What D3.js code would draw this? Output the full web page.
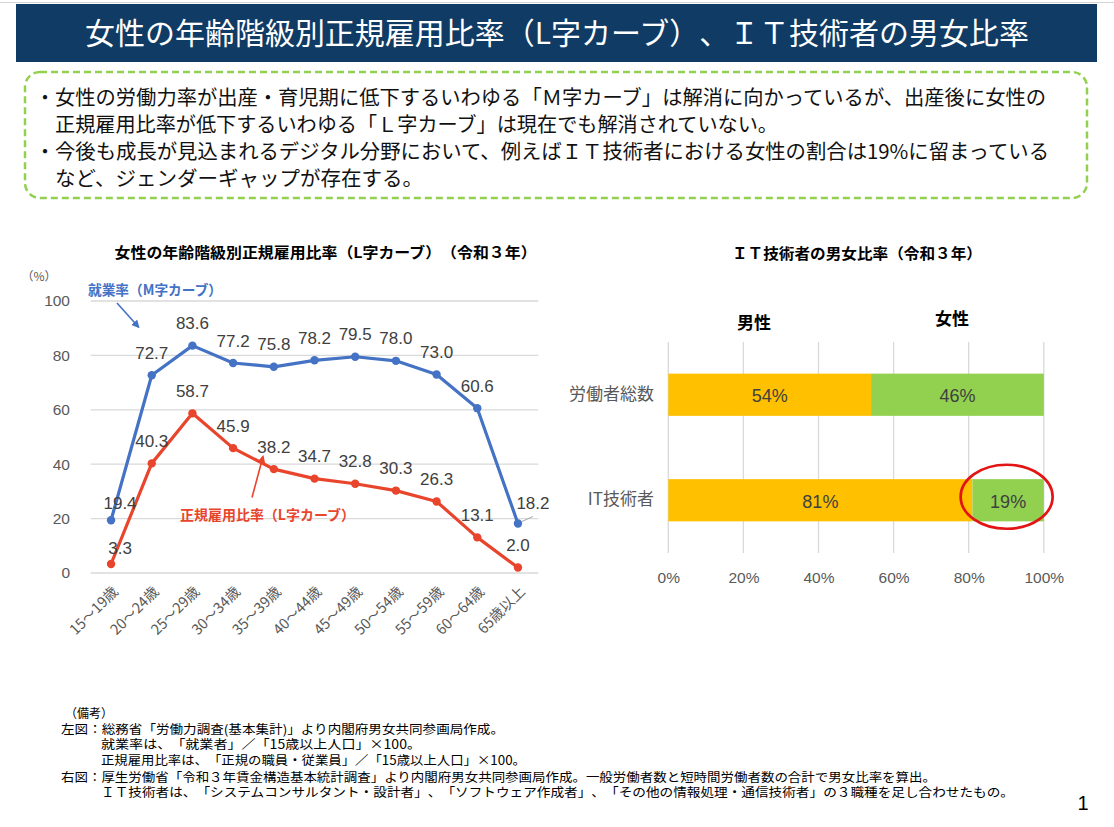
<!DOCTYPE html>
<html>
<head>
<meta charset="utf-8">
<script src="https://cdn.jsdelivr.net/npm/d3@7"></script>
<style>
  body { margin: 0; background: #fff; }
  svg { display: block; }
  svg text { text-spacing-trim: space-all; }
</style>
</head>
<body>
<div id="chart"></div>
<script>
// left chart: employment rate (M curve) and regular employment rate (L curve)
const ages = ["15～19歳", "20～24歳", "25～29歳", "30～34歳", "35～39歳", "40～44歳",
              "45～49歳", "50～54歳", "55～59歳", "60～64歳", "65歳以上"];
const employmentRate = [19.4, 72.7, 83.6, 77.2, 75.8, 78.2, 79.5, 78.0, 73.0, 60.6, 18.2];
const regularRate = [3.3, 40.3, 58.7, 45.9, 38.2, 34.7, 32.8, 30.3, 26.3, 13.1, 2.0];
const leftTicks = [0, 20, 40, 60, 80, 100];

// right chart: IT engineers gender ratio
const groups = ["労働者総数", "IT技術者"];
const maleShare = [54, 81];
const femaleShare = [46, 19];
const rightTicks = [0, 20, 40, 60, 80, 100];

const bodyLines = [
    "女性の労働力率が出産・育児期に低下するいわゆる「Ｍ字カーブ」は解消に向かっているが、出産後に女性の",
    "正規雇用比率が低下するいわゆる「Ｌ字カーブ」は現在でも解消されていない。",
    "今後も成長が見込まれるデジタル分野において、例えばＩＴ技術者における女性の割合は19%に留まっている",
    "など、ジェンダーギャップが存在する。"
];
const noteLines = [
    "（備考）",
    "左図：総務省「労働力調査(基本集計)」より内閣府男女共同参画局作成。",
    "就業率は、「就業者」／「15歳以上人口」×100。",
    "正規雇用比率は、「正規の職員・従業員」／「15歳以上人口」×100。",
    "右図：厚生労働省「令和３年賃金構造基本統計調査」より内閣府男女共同参画局作成。一般労働者数と短時間労働者数の合計で男女比率を算出。",
    "ＩＴ技術者は、「システムコンサルタント・設計者」、「ソフトウェア作成者」、「その他の情報処理・通信技術者」の３職種を足し合わせたもの。"
];

const jp = "'Noto Sans CJK JP', sans-serif";
const num = "'Liberation Sans', Arial, sans-serif";
const blue = "#4472C4";
const red = "#E8452C";

const svg = d3.select("#chart").append("svg")
    .attr("width", 1114)
    .attr("height", 827);

// ---- header ----
svg.append("line")
    .attr("x1", 0).attr("x2", 1114).attr("y1", 2.5).attr("y2", 2.5)
    .attr("stroke", "#d4d4d4").attr("stroke-width", 1);

svg.append("rect")
    .attr("x", 16).attr("y", 4)
    .attr("width", 1081).attr("height", 58)
    .attr("fill", "#0F3B64");

svg.append("text")
    .attr("x", 85).attr("y", 33)
    .attr("dy", "0.36em")
    .attr("textLength", 944)
    .attr("lengthAdjust", "spacingAndGlyphs")
    .style("font-family", jp)
    .style("font-size", "30px")
    .attr("fill", "#fff")
    .text("女性の年齢階級別正規雇用比率（L字カーブ）、ＩＴ技術者の男女比率");

// ---- summary box ----
svg.append("rect")
    .attr("x", 25).attr("y", 72)
    .attr("width", 1062).attr("height", 126)
    .attr("rx", 15)
    .attr("fill", "none")
    .attr("stroke", "#92D050")
    .attr("stroke-width", 2.5)
    .attr("stroke-dasharray", "7 4");

const lineY = [98, 125, 152, 179];
const lineFit = [991, 723, 994, 368];
bodyLines.forEach(function(t, i) {
    if (i === 0 || i === 2) {
        svg.append("text")
            .attr("x", 45).attr("y", lineY[i])
            .attr("dy", "0.36em")
            .attr("text-anchor", "middle")
            .style("font-family", jp)
            .style("font-size", "20px")
            .attr("fill", "#111")
            .text("・");
    }
    svg.append("text")
        .attr("x", 55).attr("y", lineY[i])
        .attr("dy", "0.36em")
        .attr("textLength", lineFit[i])
        .attr("lengthAdjust", "spacingAndGlyphs")
        .style("font-family", jp)
        .style("font-size", "20.3px")
        .attr("fill", "#111")
        .text(t);
});

// ---- left chart ----
const xL = d3.scalePoint()
    .domain(ages)
    .range([90.7, 538.3])
    .padding(0.5);

const yL = d3.scaleLinear()
    .domain([0, 100])
    .range([573, 301]);

svg.append("text")
    .attr("x", 325.6).attr("y", 253)
    .attr("dy", "0.36em")
    .attr("text-anchor", "middle")
    .attr("textLength", 422)
    .attr("lengthAdjust", "spacingAndGlyphs")
    .style("font-family", jp)
    .style("font-size", "15px")
    .style("font-weight", "bold")
    .attr("fill", "#000")
    .text("女性の年齢階級別正規雇用比率（L字カーブ）（令和３年）");

svg.append("text")
    .attr("x", 39).attr("y", 277)
    .attr("dy", "0.36em")
    .attr("text-anchor", "middle")
    .style("font-family", jp)
    .style("font-size", "12px")
    .attr("fill", "#595959")
    .text("（%）");

svg.append("g")
    .selectAll("line")
    .data(leftTicks)
    .enter().append("line")
    .attr("x1", 90.7).attr("x2", 538.3)
    .attr("y1", d => yL(d)).attr("y2", d => yL(d))
    .attr("stroke", "#D9D9D9")
    .attr("stroke-width", 1.3);

const yAxisL = svg.append("g")
    .attr("transform", "translate(76,0)")
    .call(d3.axisLeft(yL).tickValues(leftTicks).tickSize(0).tickPadding(6));
yAxisL.select(".domain").remove();
yAxisL.selectAll("text")
    .style("font-family", num)
    .style("font-size", "15.5px")
    .attr("fill", "#595959");

const xAxisL = svg.append("g")
    .attr("transform", "translate(0,573)")
    .call(d3.axisBottom(xL).tickSize(0));
xAxisL.select(".domain").remove();
xAxisL.selectAll("text")
    .attr("text-anchor", "end")
    .attr("x", 0).attr("y", 0).attr("dy", "0.35em")
    .attr("transform", "translate(4,16) rotate(-45)")
    .style("font-family", jp)
    .style("font-size", "14.5px")
    .attr("fill", "#595959");

const line = d3.line()
    .x((d, i) => xL(ages[i]))
    .y(d => yL(d));

function drawSeries(values, color) {
    svg.append("path")
        .datum(values)
        .attr("d", line)
        .attr("fill", "none")
        .attr("stroke", color)
        .attr("stroke-width", 3.2)
        .attr("stroke-linejoin", "round");
    svg.append("g")
        .selectAll("circle")
        .data(values)
        .enter().append("circle")
        .attr("cx", (d, i) => xL(ages[i]))
        .attr("cy", d => yL(d))
        .attr("r", 4.2)
        .attr("fill", color);
}
drawSeries(employmentRate, blue);
drawSeries(regularRate, red);

// label offsets: first and last points are nudged like the original
function labelDx(i, series) {
    if (i === 0) return 9;
    if (i === ages.length - 1 && series === "emp") return 15;
    return 0;
}
function labelDy(i, series) {
    if (i === 0) return series === "emp" ? -17 : -16;
    if (i === ages.length - 1 && series === "emp") return -21;
    return -22.5;
}

function drawLabels(values, series) {
    svg.append("g")
        .selectAll("text")
        .data(values)
        .enter().append("text")
        .attr("x", (d, i) => xL(ages[i]) + labelDx(i, series))
        .attr("y", (d, i) => yL(d) + labelDy(i, series))
        .attr("dy", "0.36em")
        .attr("text-anchor", "middle")
        .style("font-family", num)
        .style("font-size", "17px")
        .attr("fill", "#404040")
        .text(d => d.toFixed(1));
}
drawLabels(employmentRate, "emp");
drawLabels(regularRate, "reg");

// leader line for the last employment label
const lastI = ages.length - 1;
svg.append("line")
    .attr("x1", xL(ages[lastI]) + 4).attr("y1", yL(employmentRate[lastI]) - 2)
    .attr("x2", xL(ages[lastI]) + 15).attr("y2", yL(employmentRate[lastI]) - 7)
    .attr("stroke", "#A6A6A6")
    .attr("stroke-width", 1);

// arrows and annotations
const defs = svg.append("defs");
[["arrBlue", blue], ["arrRed", red]].forEach(function(m) {
    defs.append("marker")
        .attr("id", m[0])
        .attr("viewBox", "0 0 10 10")
        .attr("refX", 8).attr("refY", 5)
        .attr("markerWidth", 5).attr("markerHeight", 5)
        .attr("orient", "auto")
        .append("path")
        .attr("d", "M0,0 L10,5 L0,10 z")
        .attr("fill", m[1]);
});

svg.append("line")
    .attr("x1", 117).attr("y1", 303)
    .attr("x2", 138.5).attr("y2", 327)
    .attr("stroke", blue).attr("stroke-width", 1.6)
    .attr("marker-end", "url(#arrBlue)");

svg.append("line")
    .attr("x1", 252).attr("y1", 497.5)
    .attr("x2", 263).attr("y2", 456.5)
    .attr("stroke", red).attr("stroke-width", 1.6)
    .attr("marker-end", "url(#arrRed)");

svg.append("text")
    .attr("x", 88).attr("y", 290)
    .attr("dy", "0.36em")
    .attr("textLength", 134)
    .attr("lengthAdjust", "spacingAndGlyphs")
    .style("font-family", jp)
    .style("font-size", "14px")
    .style("font-weight", "bold")
    .attr("fill", blue)
    .text("就業率（M字カーブ）");

svg.append("text")
    .attr("x", 180).attr("y", 515)
    .attr("dy", "0.36em")
    .attr("textLength", 175)
    .attr("lengthAdjust", "spacingAndGlyphs")
    .style("font-family", jp)
    .style("font-size", "14px")
    .style("font-weight", "bold")
    .attr("fill", red)
    .text("正規雇用比率（L字カーブ）");

// ---- right chart ----
const xR = d3.scaleLinear()
    .domain([0, 100])
    .range([668.3, 1043.8]);

const yR = d3.scaleBand()
    .domain(groups)
    .range([342, 553])
    .paddingInner(0.6)
    .paddingOuter(0.3);

svg.append("text")
    .attr("x", 857).attr("y", 254)
    .attr("dy", "0.36em")
    .attr("text-anchor", "middle")
    .attr("textLength", 250)
    .attr("lengthAdjust", "spacingAndGlyphs")
    .style("font-family", jp)
    .style("font-size", "15px")
    .style("font-weight", "bold")
    .attr("fill", "#000")
    .text("ＩＴ技術者の男女比率（令和３年）");

svg.append("g")
    .selectAll("line")
    .data(rightTicks)
    .enter().append("line")
    .attr("x1", d => xR(d)).attr("x2", d => xR(d))
    .attr("y1", 342).attr("y2", 553)
    .attr("stroke", "#D9D9D9")
    .attr("stroke-width", 1.3);

const xAxisR = svg.append("g")
    .attr("transform", "translate(0,566)")
    .call(d3.axisBottom(xR).tickValues(rightTicks).tickSize(0).tickFormat(d => d + "%"));
xAxisR.select(".domain").remove();
xAxisR.selectAll("text")
    .attr("y", 11).attr("dy", "0.36em")
    .style("font-family", num)
    .style("font-size", "15.5px")
    .attr("fill", "#595959");

const yAxisR = svg.append("g")
    .attr("transform", "translate(654,0)")
    .call(d3.axisLeft(yR).tickSize(0).tickPadding(0));
yAxisR.select(".domain").remove();
yAxisR.selectAll("text")
    .attr("dy", "0.3em")
    .style("font-family", jp)
    .style("font-size", "17px")
    .attr("fill", "#595959");

const stacked = groups.map((g, i) => ({ group: g, male: maleShare[i], female: femaleShare[i] }));

svg.append("g")
    .selectAll("rect")
    .data(stacked)
    .enter().append("rect")
    .attr("x", xR(0))
    .attr("y", d => yR(d.group))
    .attr("width", d => xR(d.male) - xR(0))
    .attr("height", yR.bandwidth())
    .attr("fill", "#FFC000");

svg.append("g")
    .selectAll("rect")
    .data(stacked)
    .enter().append("rect")
    .attr("x", d => xR(d.male))
    .attr("y", d => yR(d.group))
    .attr("width", d => xR(d.male + d.female) - xR(d.male))
    .attr("height", yR.bandwidth())
    .attr("fill", "#92D050");

const barLabels = [];
stacked.forEach(function(d) {
    barLabels.push({ x: xR(d.male / 2), y: yR(d.group) + yR.bandwidth() / 2, v: d.male });
    barLabels.push({ x: xR(d.male + d.female / 2), y: yR(d.group) + yR.bandwidth() / 2, v: d.female });
});

svg.append("g")
    .selectAll("text")
    .data(barLabels)
    .enter().append("text")
    .attr("x", d => d.x)
    .attr("y", d => d.y + 1)
    .attr("dy", "0.36em")
    .attr("text-anchor", "middle")
    .style("font-family", num)
    .style("font-size", "18px")
    .attr("fill", "#404040")
    .text(d => d.v + "%");

svg.append("text")
    .attr("x", 754).attr("y", 323)
    .attr("dy", "0.36em")
    .attr("text-anchor", "middle")
    .style("font-family", jp)
    .style("font-size", "17px")
    .style("font-weight", "bold")
    .attr("fill", "#000")
    .text("男性");

svg.append("text")
    .attr("x", 952).attr("y", 319)
    .attr("dy", "0.36em")
    .attr("text-anchor", "middle")
    .style("font-family", jp)
    .style("font-size", "17px")
    .style("font-weight", "bold")
    .attr("fill", "#000")
    .text("女性");

// highlight circle round the IT female share
const itIdx = groups.length - 1;
svg.append("ellipse")
    .attr("cx", xR(maleShare[itIdx] + femaleShare[itIdx] / 2) - 1.5)
    .attr("cy", yR(groups[itIdx]) + yR.bandwidth() / 2 - 3.5)
    .attr("rx", 46)
    .attr("ry", 32)
    .attr("fill", "none")
    .attr("stroke", "#E31414")
    .attr("stroke-width", 2.7);

// ---- notes ----
const noteX = [65, 61, 101, 101, 61, 101];
const noteY = [713, 729, 744.5, 760, 777, 792];
const noteFit = [48, 443, 320, 425, 875, 913];
noteLines.forEach(function(t, i) {
    svg.append("text")
        .attr("x", noteX[i]).attr("y", noteY[i])
        .attr("dy", "0.36em")
        .attr("textLength", noteFit[i])
        .attr("lengthAdjust", "spacingAndGlyphs")
        .style("font-family", jp)
        .style("font-size", "12.5px")
        .attr("fill", "#000")
        .text(t);
});

svg.append("text")
    .attr("x", 1083).attr("y", 803)
    .attr("dy", "0.36em")
    .attr("text-anchor", "middle")
    .style("font-family", num)
    .style("font-size", "20px")
    .attr("fill", "#000")
    .text("1");
</script>
</body>
</html>
